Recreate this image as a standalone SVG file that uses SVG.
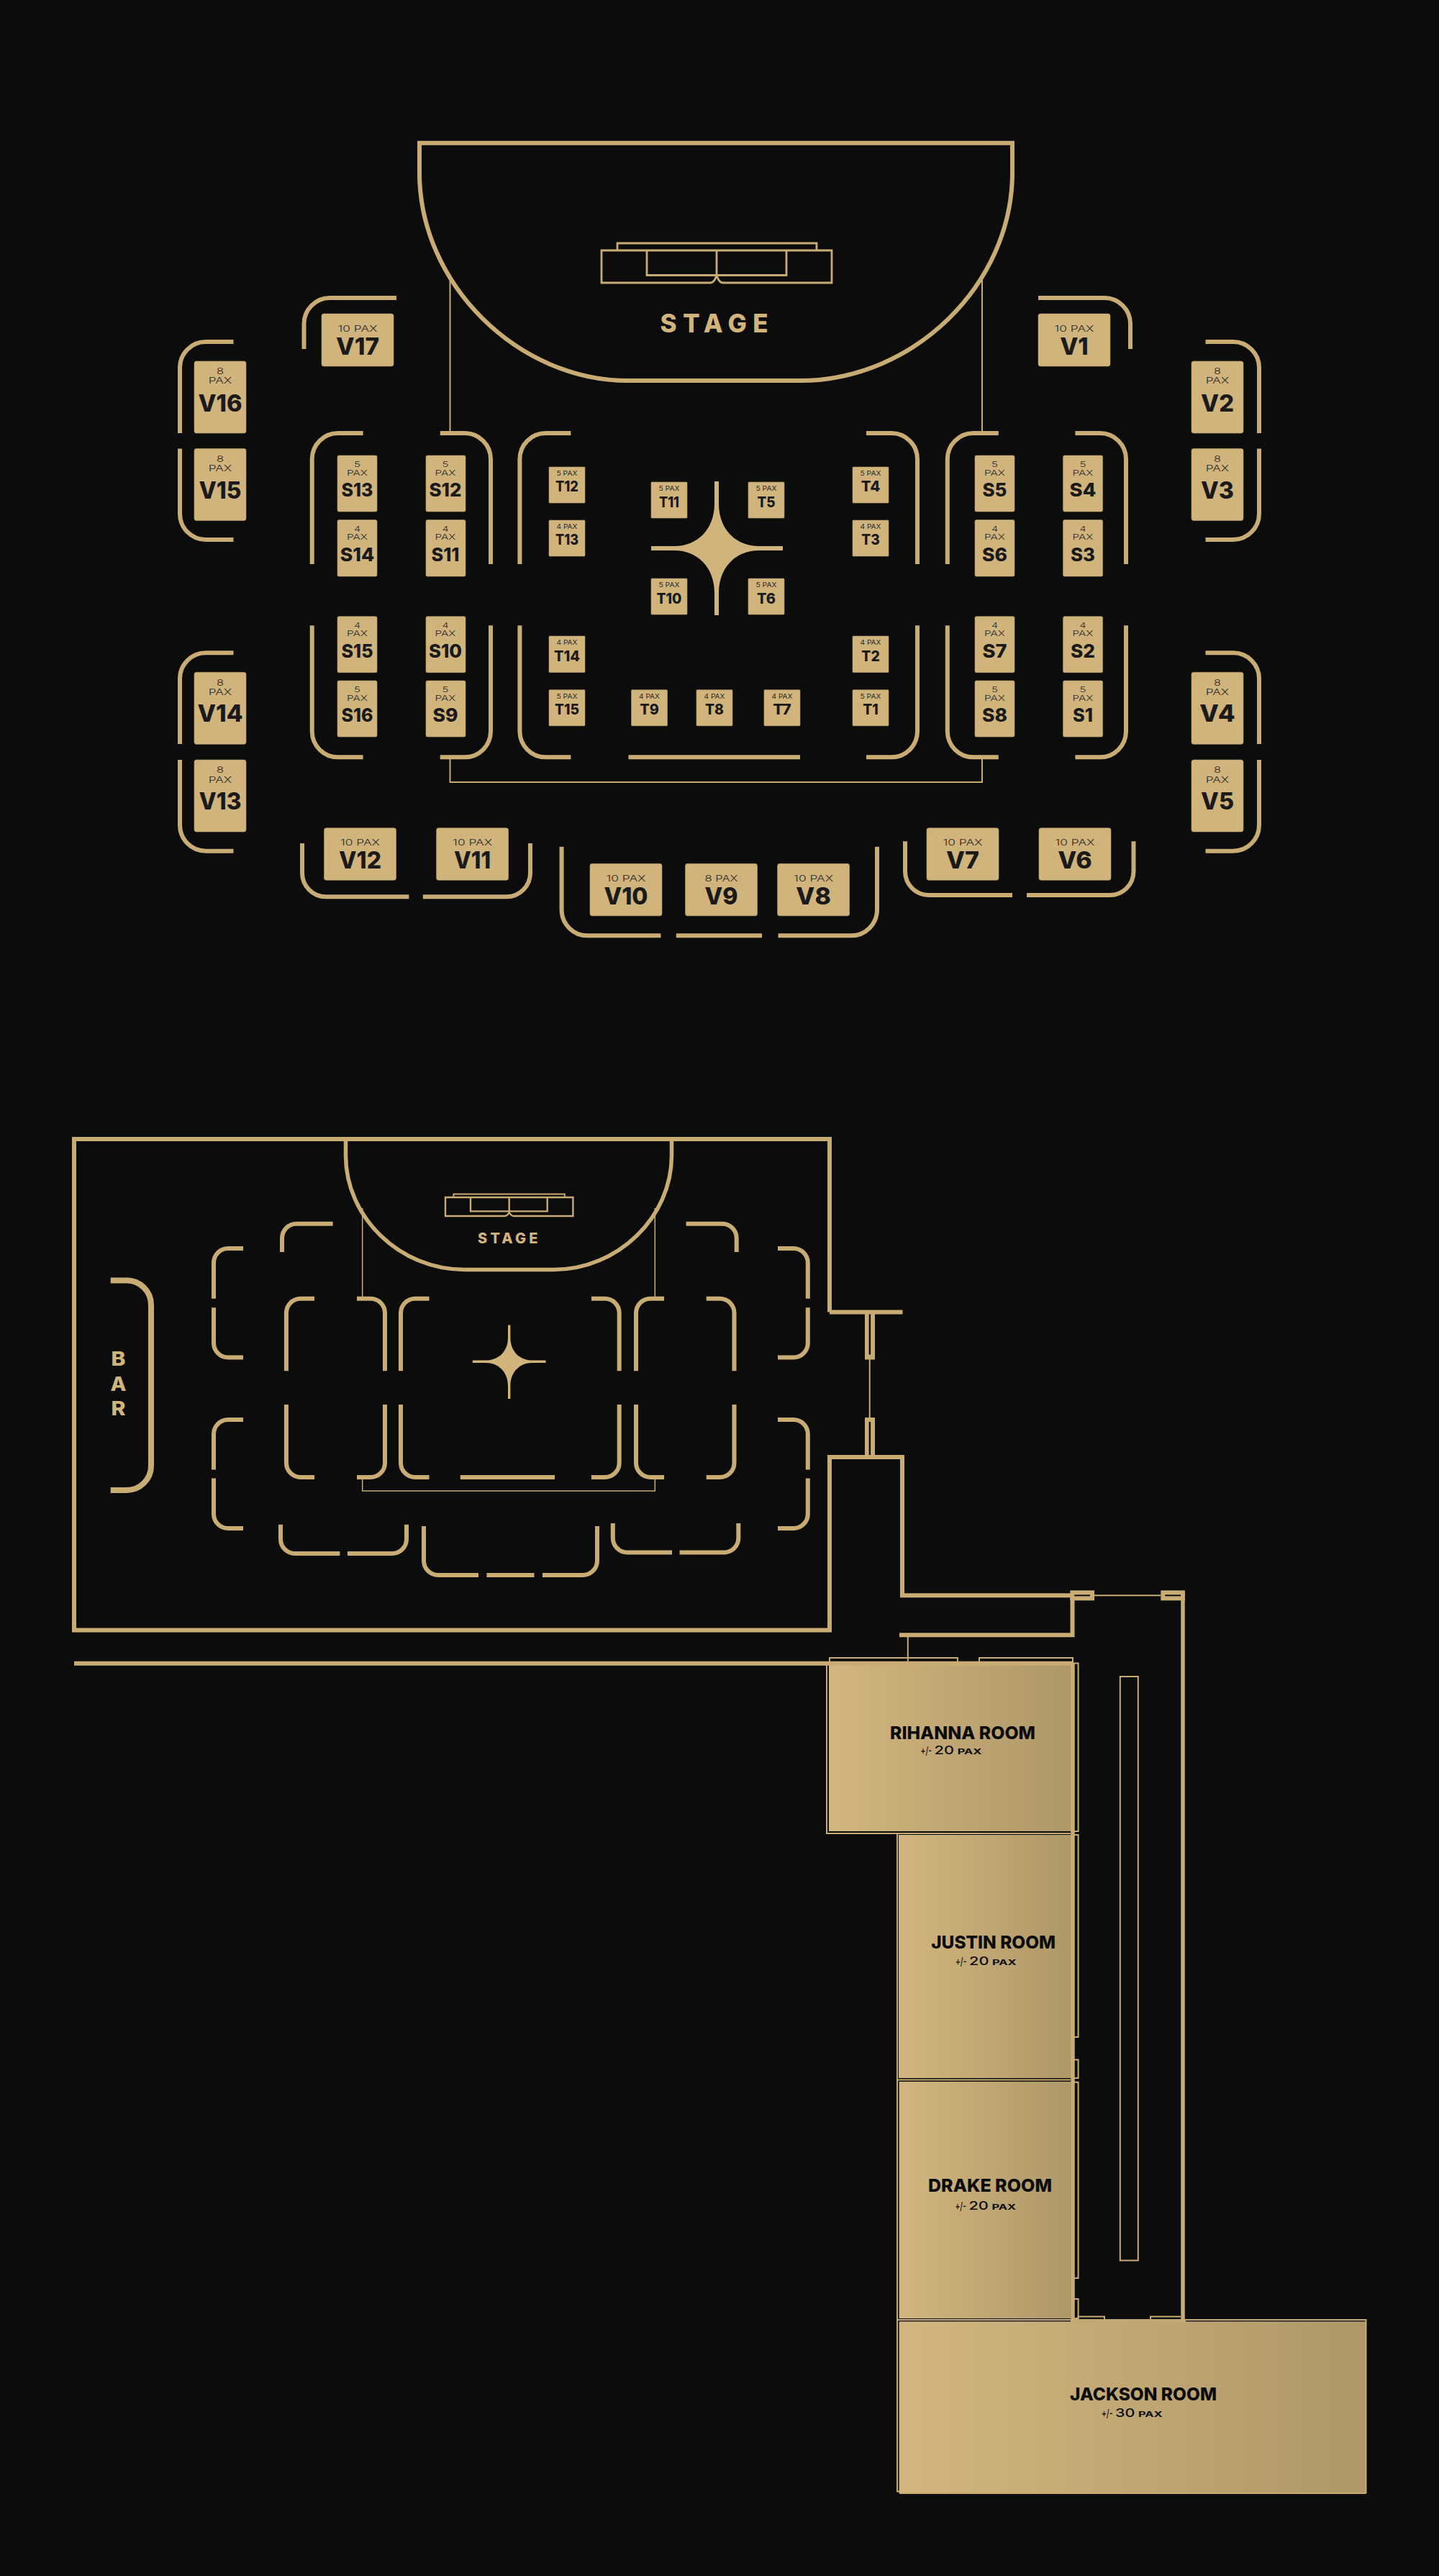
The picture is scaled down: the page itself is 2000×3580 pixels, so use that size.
<svg xmlns="http://www.w3.org/2000/svg" width="2000" height="3580" viewBox="0 0 2000 3580">
<style>
.w{fill:none;stroke:#C8AC74;stroke-width:6}
.s{fill:none;stroke:#C8AC74;stroke-width:5.5}
.t{fill:none;stroke:#C8AC74;stroke-width:2}
.th{fill:none;stroke:#C8AC74;stroke-width:2.8}
.j{fill:#C8AC74}
.sl{fill:#0C0C0C}
.tb{fill:#D1B47C;stroke:#B9A06C;stroke-width:.6}
.star{fill:#D1B47C}
text{font-family:Inter,"Liberation Sans",sans-serif;text-anchor:middle}
.pv{font-size:12px;font-weight:300;fill:#2a2a2a}
.ps{font-size:10.5px;font-weight:300;fill:#2a2a2a}
.pt{font-size:8.5px;font-weight:400;fill:#2a2a2a}
.nv{font-size:32.5px;font-weight:800;fill:#1a1a1a}
.ns{font-size:25.5px;font-weight:800;fill:#1a1a1a}
.nt{font-size:20px;font-weight:800;fill:#1a1a1a}
.rm{font-size:24.5px;font-weight:800;fill:#0c0c0c}
.rp{font-size:16.5px;font-weight:500;fill:#0c0c0c;text-anchor:start}
.rps{font-size:11px;font-weight:700}
.rpm{font-size:15px;font-weight:500}
.lb{font-weight:800;fill:#D1B47C}
</style>
<defs>
<linearGradient id="gold" x1="0" y1="0" x2="1" y2="0"><stop offset="0" stop-color="#D3B67F"/><stop offset="1" stop-color="#AE9768"/></linearGradient>
</defs>
<rect width="2000" height="3580" fill="#0C0C0C"/>

<g id="connectors">
<path class="t" d="M625.5 388V602M1365 388V602"/>
<path class="t" d="M625.5 1052V1087H1365V1052"/>
<path class="t" d="M503.7 1679V1803M910.3 1679V1803M503.7 2053V2072H910.3V2053" style="stroke-width:1.5"/>
<path class="t" d="M1208.7 1889V1970"/>
<path class="t" d="M1521 2217.3H1613"/>
<path class="t" d="M1261.8 2275V2310"/>
</g>

<g id="stage-upper">
<path class="w" d="M583 198.8H1407V240C1407 395 1270 529 1112 529H873C720 529 583 395 583 240Z"/>
<path class="th" d="M858 347V338H1135V347"/>
<path class="th" d="M836 348H1156V393H1005C1000 393 998 388 996 383C994 388 992 393 987 393H836Z"/>
<path class="th" d="M899 348V382.5H1093V348M996 348V383"/>
<text class="lb" x="992.5" y="462" font-size="35" textLength="150" lengthAdjust="spacing">STAGE</text>
</g>

<g id="walls-upper">
<path class="w" d="M422.5 485V450A36 36 0 0 1 458.5 414H551"/>
<path class="w" d="M1443 414H1535A36 36 0 0 1 1571 450V485"/>
<path class="w" d="M250 602V511A36 36 0 0 1 286 475H324.5M250 623.4V714A36 36 0 0 0 286 750H324.5"/>
<path class="w" d="M1675.5 475H1714A36 36 0 0 1 1750 511V602M1750 623.4V714A36 36 0 0 1 1714 750H1675.5"/>
<path class="w" d="M250 1034V943.3A36 36 0 0 1 286 907.3H324.5M250 1056V1146.7A36 36 0 0 0 286 1182.7H324.5"/>
<path class="w" d="M1675.5 907.3H1714A36 36 0 0 1 1750 943.3V1034M1750 1056V1146.7A36 36 0 0 1 1714 1182.7H1675.5"/>
<path class="w" d="M433.7 784V638A36 36 0 0 1 469.7 602H504.6M611.7 602H646A36 36 0 0 1 682 638V784"/>
<path class="w" d="M722.4 784V638A36 36 0 0 1 758.4 602H793.4M1204 602H1239A36 36 0 0 1 1275 638V784"/>
<path class="w" d="M1316.8 784V638A36 36 0 0 1 1352.8 602H1387.8M1494.4 602H1529A36 36 0 0 1 1565 638V784"/>
<path class="w" d="M433.7 869.3V1016.3A36 36 0 0 0 469.7 1052.3H504.6M611.7 1052.3H646A36 36 0 0 0 682 1016.3V869.3"/>
<path class="w" d="M722.4 869.3V1016.3A36 36 0 0 0 758.4 1052.3H793.4M873.5 1052.3H1112M1204 1052.3H1239A36 36 0 0 0 1275 1016.3V869.3"/>
<path class="w" d="M1316.8 869.3V1016.3A36 36 0 0 0 1352.8 1052.3H1387.8M1494.4 1052.3H1529A36 36 0 0 0 1565 1016.3V869.3"/>
<path class="w" d="M420 1172V1213.3A33 33 0 0 0 453 1246.3H568.4M587.8 1246.3H704A33 33 0 0 0 737 1213.3V1172"/>
<path class="w" d="M780.6 1176.7V1264.3A36 36 0 0 0 816.6 1300.3H918.4M939.8 1300.3H1059M1081.6 1300.3H1183A36 36 0 0 0 1219 1264.3V1176.7"/>
<path class="w" d="M1258 1169.3V1211A33 33 0 0 0 1291 1244H1407M1427 1244H1542.5A33 33 0 0 0 1575.5 1211V1169.3"/>
<path class="star" d="M993 669V700C993 735 970 759 937 759H905V765H937C970 765 993 789 993 824V855H999V824C999 789 1022 765 1055 765H1088V759H1055C1022 759 999 735 999 700V669Z"/>
</g>

<g id="V17"><rect class="tb" x="447" y="436" width="100" height="73" rx="3"/><text class="pv" x="497" y="460.7" textLength="55" lengthAdjust="spacingAndGlyphs">10 PAX</text><text class="nv" x="497" y="492.6" textLength="60" lengthAdjust="spacingAndGlyphs">V17</text></g>
<g id="V1"><rect class="tb" x="1443" y="436" width="100" height="73" rx="3"/><text class="pv" x="1493" y="460.7" textLength="55" lengthAdjust="spacingAndGlyphs">10 PAX</text><text class="nv" x="1493" y="492.6" textLength="39.5" lengthAdjust="spacingAndGlyphs">V1</text></g>
<g id="V12"><rect class="tb" x="450.5" y="1150.7" width="100" height="72.5" rx="3"/><text class="pv" x="500.5" y="1175.3" textLength="55" lengthAdjust="spacingAndGlyphs">10 PAX</text><text class="nv" x="500.5" y="1206.7" textLength="59" lengthAdjust="spacingAndGlyphs">V12</text></g>
<g id="V11"><rect class="tb" x="606.6" y="1150.7" width="100" height="72.5" rx="3"/><text class="pv" x="656.6" y="1175.3" textLength="55" lengthAdjust="spacingAndGlyphs">10 PAX</text><text class="nv" x="656.6" y="1206.7" textLength="51" lengthAdjust="spacingAndGlyphs">V11</text></g>
<g id="V7"><rect class="tb" x="1288" y="1150.7" width="100" height="72.5" rx="3"/><text class="pv" x="1338" y="1175.3" textLength="55" lengthAdjust="spacingAndGlyphs">10 PAX</text><text class="nv" x="1338" y="1206.7" textLength="46" lengthAdjust="spacingAndGlyphs">V7</text></g>
<g id="V6"><rect class="tb" x="1444" y="1150.7" width="100" height="72.5" rx="3"/><text class="pv" x="1494" y="1175.3" textLength="55" lengthAdjust="spacingAndGlyphs">10 PAX</text><text class="nv" x="1494" y="1206.7" textLength="47.5" lengthAdjust="spacingAndGlyphs">V6</text></g>
<g id="V10"><rect class="tb" x="820" y="1200.3" width="100" height="72.5" rx="3"/><text class="pv" x="870" y="1225" textLength="55" lengthAdjust="spacingAndGlyphs">10 PAX</text><text class="nv" x="870" y="1256.7" textLength="61" lengthAdjust="spacingAndGlyphs">V10</text></g>
<g id="V9"><rect class="tb" x="952.5" y="1200.3" width="100" height="72.5" rx="3"/><text class="pv" x="1002.5" y="1225" textLength="46" lengthAdjust="spacingAndGlyphs">8 PAX</text><text class="nv" x="1002.5" y="1256.7" textLength="46" lengthAdjust="spacingAndGlyphs">V9</text></g>
<g id="V8"><rect class="tb" x="1080.6" y="1200.3" width="100" height="72.5" rx="3"/><text class="pv" x="1130.6" y="1225" textLength="55" lengthAdjust="spacingAndGlyphs">10 PAX</text><text class="nv" x="1130.6" y="1256.7" textLength="48.5" lengthAdjust="spacingAndGlyphs">V8</text></g>

<g id="V16"><rect class="tb" x="270" y="502" width="72" height="100" rx="3"/><text class="pv" x="306" y="520" textLength="10" lengthAdjust="spacingAndGlyphs">8</text><text class="pv" x="306" y="533" textLength="32.5" lengthAdjust="spacingAndGlyphs">PAX</text><text class="nv" x="306" y="571.6" textLength="61" lengthAdjust="spacingAndGlyphs">V16</text></g>
<g id="V15"><rect class="tb" x="270" y="623.4" width="72" height="100" rx="3"/><text class="pv" x="306" y="642" textLength="10" lengthAdjust="spacingAndGlyphs">8</text><text class="pv" x="306" y="654.6" textLength="32.5" lengthAdjust="spacingAndGlyphs">PAX</text><text class="nv" x="306" y="693" textLength="59" lengthAdjust="spacingAndGlyphs">V15</text></g>
<g id="V14"><rect class="tb" x="270" y="934.3" width="72" height="100" rx="3"/><text class="pv" x="306" y="952.7" textLength="10" lengthAdjust="spacingAndGlyphs">8</text><text class="pv" x="306" y="966" textLength="32.5" lengthAdjust="spacingAndGlyphs">PAX</text><text class="nv" x="306" y="1003.3" textLength="63" lengthAdjust="spacingAndGlyphs">V14</text></g>
<g id="V13"><rect class="tb" x="270" y="1056" width="72" height="100" rx="3"/><text class="pv" x="306" y="1074" textLength="10" lengthAdjust="spacingAndGlyphs">8</text><text class="pv" x="306" y="1087.7" textLength="32.5" lengthAdjust="spacingAndGlyphs">PAX</text><text class="nv" x="306" y="1125" textLength="59" lengthAdjust="spacingAndGlyphs">V13</text></g>
<g id="V2"><rect class="tb" x="1656" y="502" width="72" height="100" rx="3"/><text class="pv" x="1692" y="520" textLength="10" lengthAdjust="spacingAndGlyphs">8</text><text class="pv" x="1692" y="533" textLength="32.5" lengthAdjust="spacingAndGlyphs">PAX</text><text class="nv" x="1692" y="571.6" textLength="46" lengthAdjust="spacingAndGlyphs">V2</text></g>
<g id="V3"><rect class="tb" x="1656" y="623.4" width="72" height="100" rx="3"/><text class="pv" x="1692" y="642" textLength="10" lengthAdjust="spacingAndGlyphs">8</text><text class="pv" x="1692" y="654.6" textLength="32.5" lengthAdjust="spacingAndGlyphs">PAX</text><text class="nv" x="1692" y="693" textLength="46" lengthAdjust="spacingAndGlyphs">V3</text></g>
<g id="V4"><rect class="tb" x="1656" y="934.3" width="72" height="100" rx="3"/><text class="pv" x="1692" y="952.7" textLength="10" lengthAdjust="spacingAndGlyphs">8</text><text class="pv" x="1692" y="966" textLength="32.5" lengthAdjust="spacingAndGlyphs">PAX</text><text class="nv" x="1692" y="1003.3" textLength="49.5" lengthAdjust="spacingAndGlyphs">V4</text></g>
<g id="V5"><rect class="tb" x="1656" y="1056" width="72" height="100" rx="3"/><text class="pv" x="1692" y="1074" textLength="10" lengthAdjust="spacingAndGlyphs">8</text><text class="pv" x="1692" y="1087.7" textLength="32.5" lengthAdjust="spacingAndGlyphs">PAX</text><text class="nv" x="1692" y="1125" textLength="46" lengthAdjust="spacingAndGlyphs">V5</text></g>

<g id="S13"><rect class="tb" x="469" y="633" width="55" height="78" rx="2"/><text class="ps" x="496.5" y="649" textLength="9" lengthAdjust="spacingAndGlyphs">5</text><text class="ps" x="496.5" y="661" textLength="29" lengthAdjust="spacingAndGlyphs">PAX</text><text class="ns" x="496.5" y="690" textLength="44" lengthAdjust="spacingAndGlyphs">S13</text></g>
<g id="S12"><rect class="tb" x="592" y="633" width="55" height="78" rx="2"/><text class="ps" x="619" y="649" textLength="9" lengthAdjust="spacingAndGlyphs">5</text><text class="ps" x="619" y="661" textLength="29" lengthAdjust="spacingAndGlyphs">PAX</text><text class="ns" x="619" y="690" textLength="45" lengthAdjust="spacingAndGlyphs">S12</text></g>
<g id="S5"><rect class="tb" x="1355" y="633" width="55" height="78" rx="2"/><text class="ps" x="1382.5" y="649" textLength="9" lengthAdjust="spacingAndGlyphs">5</text><text class="ps" x="1382.5" y="661" textLength="29" lengthAdjust="spacingAndGlyphs">PAX</text><text class="ns" x="1382.5" y="690" textLength="34" lengthAdjust="spacingAndGlyphs">S5</text></g>
<g id="S4"><rect class="tb" x="1477.6" y="633" width="55" height="78" rx="2"/><text class="ps" x="1505" y="649" textLength="9" lengthAdjust="spacingAndGlyphs">5</text><text class="ps" x="1505" y="661" textLength="29" lengthAdjust="spacingAndGlyphs">PAX</text><text class="ns" x="1505" y="690" textLength="37" lengthAdjust="spacingAndGlyphs">S4</text></g>
<g id="S14"><rect class="tb" x="469" y="722.5" width="55" height="78.5" rx="2"/><text class="ps" x="496.5" y="738.6" textLength="9" lengthAdjust="spacingAndGlyphs">4</text><text class="ps" x="496.5" y="750" textLength="29" lengthAdjust="spacingAndGlyphs">PAX</text><text class="ns" x="496.5" y="780" textLength="47.5" lengthAdjust="spacingAndGlyphs">S14</text></g>
<g id="S11"><rect class="tb" x="592" y="722.5" width="55" height="78.5" rx="2"/><text class="ps" x="619" y="738.6" textLength="9" lengthAdjust="spacingAndGlyphs">4</text><text class="ps" x="619" y="750" textLength="29" lengthAdjust="spacingAndGlyphs">PAX</text><text class="ns" x="619" y="780" textLength="39" lengthAdjust="spacingAndGlyphs">S11</text></g>
<g id="S6"><rect class="tb" x="1355" y="722.5" width="55" height="78.5" rx="2"/><text class="ps" x="1382.5" y="738.6" textLength="9" lengthAdjust="spacingAndGlyphs">4</text><text class="ps" x="1382.5" y="750" textLength="29" lengthAdjust="spacingAndGlyphs">PAX</text><text class="ns" x="1382.5" y="780" textLength="35" lengthAdjust="spacingAndGlyphs">S6</text></g>
<g id="S3"><rect class="tb" x="1477.6" y="722.5" width="55" height="78.5" rx="2"/><text class="ps" x="1505" y="738.6" textLength="9" lengthAdjust="spacingAndGlyphs">4</text><text class="ps" x="1505" y="750" textLength="29" lengthAdjust="spacingAndGlyphs">PAX</text><text class="ns" x="1505" y="780" textLength="34" lengthAdjust="spacingAndGlyphs">S3</text></g>
<g id="S15"><rect class="tb" x="469" y="856.7" width="55" height="78" rx="2"/><text class="ps" x="496.5" y="873" textLength="9" lengthAdjust="spacingAndGlyphs">4</text><text class="ps" x="496.5" y="884" textLength="29" lengthAdjust="spacingAndGlyphs">PAX</text><text class="ns" x="496.5" y="913.7" textLength="44" lengthAdjust="spacingAndGlyphs">S15</text></g>
<g id="S10"><rect class="tb" x="592" y="856.7" width="55" height="78" rx="2"/><text class="ps" x="619" y="873" textLength="9" lengthAdjust="spacingAndGlyphs">4</text><text class="ps" x="619" y="884" textLength="29" lengthAdjust="spacingAndGlyphs">PAX</text><text class="ns" x="619" y="913.7" textLength="46" lengthAdjust="spacingAndGlyphs">S10</text></g>
<g id="S7"><rect class="tb" x="1355" y="856.7" width="55" height="78" rx="2"/><text class="ps" x="1382.5" y="873" textLength="9" lengthAdjust="spacingAndGlyphs">4</text><text class="ps" x="1382.5" y="884" textLength="29" lengthAdjust="spacingAndGlyphs">PAX</text><text class="ns" x="1382.5" y="913.7" textLength="34" lengthAdjust="spacingAndGlyphs">S7</text></g>
<g id="S2"><rect class="tb" x="1477.6" y="856.7" width="55" height="78" rx="2"/><text class="ps" x="1505" y="873" textLength="9" lengthAdjust="spacingAndGlyphs">4</text><text class="ps" x="1505" y="884" textLength="29" lengthAdjust="spacingAndGlyphs">PAX</text><text class="ns" x="1505" y="913.7" textLength="34" lengthAdjust="spacingAndGlyphs">S2</text></g>
<g id="S16"><rect class="tb" x="469" y="946" width="55" height="78" rx="2"/><text class="ps" x="496.5" y="962" textLength="9" lengthAdjust="spacingAndGlyphs">5</text><text class="ps" x="496.5" y="974" textLength="29" lengthAdjust="spacingAndGlyphs">PAX</text><text class="ns" x="496.5" y="1003" textLength="44" lengthAdjust="spacingAndGlyphs">S16</text></g>
<g id="S9"><rect class="tb" x="592" y="946" width="55" height="78" rx="2"/><text class="ps" x="619" y="962" textLength="9" lengthAdjust="spacingAndGlyphs">5</text><text class="ps" x="619" y="974" textLength="29" lengthAdjust="spacingAndGlyphs">PAX</text><text class="ns" x="619" y="1003" textLength="35" lengthAdjust="spacingAndGlyphs">S9</text></g>
<g id="S8"><rect class="tb" x="1355" y="946" width="55" height="78" rx="2"/><text class="ps" x="1382.5" y="962" textLength="9" lengthAdjust="spacingAndGlyphs">5</text><text class="ps" x="1382.5" y="974" textLength="29" lengthAdjust="spacingAndGlyphs">PAX</text><text class="ns" x="1382.5" y="1003" textLength="35" lengthAdjust="spacingAndGlyphs">S8</text></g>
<g id="S1"><rect class="tb" x="1477.6" y="946" width="55" height="78" rx="2"/><text class="ps" x="1505" y="962" textLength="9" lengthAdjust="spacingAndGlyphs">5</text><text class="ps" x="1505" y="974" textLength="29" lengthAdjust="spacingAndGlyphs">PAX</text><text class="ns" x="1505" y="1003" textLength="28" lengthAdjust="spacingAndGlyphs">S1</text></g>

<g id="T12"><rect class="tb" x="763" y="649" width="50" height="50" rx="1"/><text class="pt" x="788" y="661" textLength="29" lengthAdjust="spacingAndGlyphs">5 PAX</text><text class="nt" x="788" y="683" textLength="32" lengthAdjust="spacingAndGlyphs">T12</text></g>
<g id="T13"><rect class="tb" x="763" y="723" width="50" height="50" rx="1"/><text class="pt" x="788" y="735" textLength="29" lengthAdjust="spacingAndGlyphs">4 PAX</text><text class="nt" x="788" y="757" textLength="32" lengthAdjust="spacingAndGlyphs">T13</text></g>
<g id="T11"><rect class="tb" x="905" y="670" width="50" height="50" rx="1"/><text class="pt" x="930" y="682" textLength="29" lengthAdjust="spacingAndGlyphs">5 PAX</text><text class="nt" x="930" y="704.6" textLength="28" lengthAdjust="spacingAndGlyphs">T11</text></g>
<g id="T10"><rect class="tb" x="905" y="804" width="50" height="50" rx="1"/><text class="pt" x="930" y="816" textLength="29" lengthAdjust="spacingAndGlyphs">5 PAX</text><text class="nt" x="930" y="838.6" textLength="35" lengthAdjust="spacingAndGlyphs">T10</text></g>
<g id="T5"><rect class="tb" x="1040" y="670" width="50" height="50" rx="1"/><text class="pt" x="1065" y="682" textLength="29" lengthAdjust="spacingAndGlyphs">5 PAX</text><text class="nt" x="1065" y="704.6" textLength="25" lengthAdjust="spacingAndGlyphs">T5</text></g>
<g id="T6"><rect class="tb" x="1040" y="804" width="50" height="50" rx="1"/><text class="pt" x="1065" y="816" textLength="29" lengthAdjust="spacingAndGlyphs">5 PAX</text><text class="nt" x="1065" y="838.6" textLength="26" lengthAdjust="spacingAndGlyphs">T6</text></g>
<g id="T4"><rect class="tb" x="1185" y="649" width="50" height="50" rx="1"/><text class="pt" x="1210" y="661" textLength="29" lengthAdjust="spacingAndGlyphs">5 PAX</text><text class="nt" x="1210" y="683" textLength="26.5" lengthAdjust="spacingAndGlyphs">T4</text></g>
<g id="T3"><rect class="tb" x="1185" y="723" width="50" height="50" rx="1"/><text class="pt" x="1210" y="735" textLength="29" lengthAdjust="spacingAndGlyphs">4 PAX</text><text class="nt" x="1210" y="757" textLength="25.5" lengthAdjust="spacingAndGlyphs">T3</text></g>
<g id="T14"><rect class="tb" x="763" y="884" width="50" height="50.5" rx="1"/><text class="pt" x="788" y="896.3" textLength="29" lengthAdjust="spacingAndGlyphs">4 PAX</text><text class="nt" x="788" y="918.7" textLength="36" lengthAdjust="spacingAndGlyphs">T14</text></g>
<g id="T15"><rect class="tb" x="763" y="958.7" width="50" height="50" rx="1"/><text class="pt" x="788" y="970.7" textLength="29" lengthAdjust="spacingAndGlyphs">5 PAX</text><text class="nt" x="788" y="993" textLength="34" lengthAdjust="spacingAndGlyphs">T15</text></g>
<g id="T9"><rect class="tb" x="877.5" y="958.7" width="50" height="50" rx="1"/><text class="pt" x="902.5" y="970.7" textLength="29" lengthAdjust="spacingAndGlyphs">4 PAX</text><text class="nt" x="902.5" y="993" textLength="26.5" lengthAdjust="spacingAndGlyphs">T9</text></g>
<g id="T8"><rect class="tb" x="968" y="958.7" width="50" height="50" rx="1"/><text class="pt" x="993" y="970.7" textLength="29" lengthAdjust="spacingAndGlyphs">4 PAX</text><text class="nt" x="993" y="993" textLength="26" lengthAdjust="spacingAndGlyphs">T8</text></g>
<g id="T7"><rect class="tb" x="1062" y="958.7" width="50" height="50" rx="1"/><text class="pt" x="1087" y="970.7" textLength="29" lengthAdjust="spacingAndGlyphs">4 PAX</text><text class="nt" x="1087" y="993" textLength="25.5" lengthAdjust="spacingAndGlyphs">T7</text></g>
<g id="T2"><rect class="tb" x="1185" y="884" width="50" height="50.5" rx="1"/><text class="pt" x="1210" y="896.3" textLength="29" lengthAdjust="spacingAndGlyphs">4 PAX</text><text class="nt" x="1210" y="918.7" textLength="25.5" lengthAdjust="spacingAndGlyphs">T2</text></g>
<g id="T1"><rect class="tb" x="1185" y="958.7" width="50" height="50" rx="1"/><text class="pt" x="1210" y="970.7" textLength="29" lengthAdjust="spacingAndGlyphs">5 PAX</text><text class="nt" x="1210" y="993" textLength="21.5" lengthAdjust="spacingAndGlyphs">T1</text></g>

<g id="rooms">
<rect x="1152" y="2313" width="337" height="232" fill="url(#gold)"/>
<rect x="1249" y="2550" width="240" height="338" fill="url(#gold)"/>
<rect x="1249.6" y="2893" width="239" height="329" fill="url(#gold)"/>
<rect x="1249.6" y="3226.3" width="649" height="238.7" fill="url(#gold)"/>
<rect x="1488" y="3223" width="160" height="6" fill="#C2A772"/>
<path class="t" d="M1149 2313V2548H1488M1247 2548V3462.5H1250M1247 2890.5H1488M1247 3224H1488M1647 3224H1898.5V3465M1250 3465H1898.5"/>
<path class="t" d="M1153 2311V2304H1331V2311M1361 2311V2304H1491V2311"/>
<path class="t" d="M1491 2311.5H1498.6V2545H1491M1491 2550H1498.6V2831H1491M1491 2862.5H1498.6V2888H1491M1491 2893.7H1498.6V3166H1491M1491 3195H1498.6V3222H1491"/>
<path class="t" d="M1498.6 3222V3219.6H1535V3223M1599 3223V3219.6H1641"/>
<rect class="t" x="1556.8" y="2330" width="25" height="811.5"/>
<text class="rm" x="1338" y="2416.6" textLength="202" lengthAdjust="spacingAndGlyphs">RIHANNA ROOM</text>
<text class="rp" y="2438"><tspan class="rpm" x="1279.6" textLength="15.4" lengthAdjust="spacingAndGlyphs">+/-</tspan> <tspan x="1298.6" textLength="27.4" lengthAdjust="spacingAndGlyphs">20</tspan> <tspan class="rps" x="1330.7" textLength="33.7" lengthAdjust="spacingAndGlyphs">PAX</tspan></text>
<text class="rm" x="1380.7" y="2707.5" textLength="173" lengthAdjust="spacingAndGlyphs">JUSTIN ROOM</text>
<text class="rp" y="2731"><tspan class="rpm" x="1328" textLength="15.4" lengthAdjust="spacingAndGlyphs">+/-</tspan> <tspan x="1347" textLength="27.4" lengthAdjust="spacingAndGlyphs">20</tspan> <tspan class="rps" x="1379" textLength="33.7" lengthAdjust="spacingAndGlyphs">PAX</tspan></text>
<text class="rm" x="1376" y="3046.4" textLength="172" lengthAdjust="spacingAndGlyphs">DRAKE ROOM</text>
<text class="rp" y="3070.5"><tspan class="rpm" x="1327.4" textLength="15.4" lengthAdjust="spacingAndGlyphs">+/-</tspan> <tspan x="1346.4" textLength="27.4" lengthAdjust="spacingAndGlyphs">20</tspan> <tspan class="rps" x="1378.4" textLength="33.7" lengthAdjust="spacingAndGlyphs">PAX</tspan></text>
<text class="rm" x="1589" y="3335.7" textLength="204" lengthAdjust="spacingAndGlyphs">JACKSON ROOM</text>
<text class="rp" y="3359"><tspan class="rpm" x="1531" textLength="15.4" lengthAdjust="spacingAndGlyphs">+/-</tspan> <tspan x="1550" textLength="27.4" lengthAdjust="spacingAndGlyphs">30</tspan> <tspan class="rps" x="1582" textLength="33.7" lengthAdjust="spacingAndGlyphs">PAX</tspan></text>
</g>

<g id="walls-lower">
<path class="w" d="M1153 1823.5V1583H103V2265.5H1153V2025H1254V2217.3H1490.5V2272.3H1250"/>
<path class="w" d="M1153 1823.5H1254.5"/>
<path class="w" d="M103 2311.7H1491"/>
<path class="s" d="M1491 2311V3226"/>
<path class="s" d="M1644 2213V3226"/>
<rect class="j" x="1202" y="1824" width="14" height="65.5"/><rect class="sl" x="1207.7" y="1826.5" width="2.4" height="56"/>
<rect class="j" x="1202" y="1970" width="14" height="55"/><rect class="sl" x="1207.7" y="1976" width="2.4" height="46"/>
<rect class="j" x="1487.3" y="2210.3" width="33.7" height="14"/><rect class="sl" x="1493.3" y="2216.3" width="21.7" height="2"/>
<rect class="j" x="1613.3" y="2210.3" width="33.7" height="14"/><rect class="sl" x="1619.3" y="2216.3" width="21.7" height="2"/>
</g>

<g id="stage-lower">
<path class="s" d="M480.5 1583V1606C480.5 1692 556 1764.5 645 1764.5H770C858 1764.5 933.5 1692 933.5 1606V1583"/>
<path class="t" d="M630.4 1664V1659.5H784.8V1664"/>
<path class="t" d="M619 1664H796.4V1690H714C711 1690 709.5 1688 707.7 1685C706 1688 704.5 1690 701.5 1690H619Z" style="stroke-width:2.4"/>
<path class="t" d="M654 1664V1683.4H760.7V1664M707.7 1664V1685" style="stroke-width:2.4"/>
<text class="lb" x="705.7" y="1728" font-size="20" textLength="83.4" lengthAdjust="spacing">STAGE</text>
</g>

<g id="bar">
<path class="w" d="M153.7 1779.4H176A34 34 0 0 1 210 1813.4V2037A34 34 0 0 1 176 2071H153.7" style="stroke-width:8"/>
<text class="lb" x="164.5" y="1898.3" font-size="27" textLength="20" lengthAdjust="spacingAndGlyphs">B</text>
<text class="lb" x="164.5" y="1933" font-size="27" textLength="22" lengthAdjust="spacingAndGlyphs">A</text>
<text class="lb" x="164.5" y="1967" font-size="27" textLength="20" lengthAdjust="spacingAndGlyphs">R</text>
</g>

<g id="walls-lower-tables">
<path class="w" d="M392 1740V1720.8A20 20 0 0 1 412 1700.8H462.6M953.6 1700.8H1003.7A20 20 0 0 1 1023.7 1720.8V1740"/>
<path class="w" d="M297 1804.8V1755A20 20 0 0 1 317 1735H338M297 1817.2V1866.4A20 20 0 0 0 317 1886.4H338"/>
<path class="w" d="M297 2042.6V1993A20 20 0 0 1 317 1973H338M297 2054.5V2104A20 20 0 0 0 317 2124H338"/>
<path class="w" d="M1081 1735H1102.8A20 20 0 0 1 1122.8 1755V1804.8M1122.8 1817.2V1866.4A20 20 0 0 1 1102.8 1886.4H1081"/>
<path class="w" d="M1081 1973H1102.8A20 20 0 0 1 1122.8 1993V2042.6M1122.8 2054.5V2104A20 20 0 0 1 1102.8 2124H1081"/>
<path class="w" d="M397.9 1905.3V1824.8A20 20 0 0 1 417.9 1804.8H437M496 1804.8H515A20 20 0 0 1 535 1824.8V1905.3"/>
<path class="w" d="M557 1905.3V1824.8A20 20 0 0 1 577 1804.8H596.5M821.9 1804.8H840.7A20 20 0 0 1 860.7 1824.8V1905.3"/>
<path class="w" d="M884 1905.3V1824.8A20 20 0 0 1 904 1804.8H923M981.7 1804.8H1000.5A20 20 0 0 1 1020.5 1824.8V1905.3"/>
<path class="w" d="M397.9 1952V2033A20 20 0 0 0 417.9 2053H437M496 2053H515A20 20 0 0 0 535 2033V1952"/>
<path class="w" d="M557 1952V2033A20 20 0 0 0 577 2053H596.5M639.8 2053H771M821.9 2053H840.7A20 20 0 0 0 860.7 2033V1952"/>
<path class="w" d="M884 1952V2033A20 20 0 0 0 904 2053H923M981.7 2053H1000.5A20 20 0 0 0 1020.5 2033V1952"/>
<path class="w" d="M390 2118.7V2139A20 20 0 0 0 410 2159H472.4M483 2159H545A20 20 0 0 0 565 2139V2118.7"/>
<path class="w" d="M589 2121V2169A20 20 0 0 0 609 2189H665M676.4 2189H742.5M754 2189H810A20 20 0 0 0 830 2169V2121"/>
<path class="w" d="M851.8 2117V2137.5A20 20 0 0 0 871.8 2157.5H934M944.6 2157.5H1006.3A20 20 0 0 0 1026.3 2137.5V2117"/>
<path class="star" d="M706 1841.6V1859C706 1878 693 1890.6 675 1890.6H656.8V1894H675C693 1894 706 1907 706 1926V1944H709.4V1926C709.4 1907 722 1894 740 1894H758.5V1890.6H740C722 1890.6 709.4 1878 709.4 1859V1841.6Z"/>
</g>
</svg>
